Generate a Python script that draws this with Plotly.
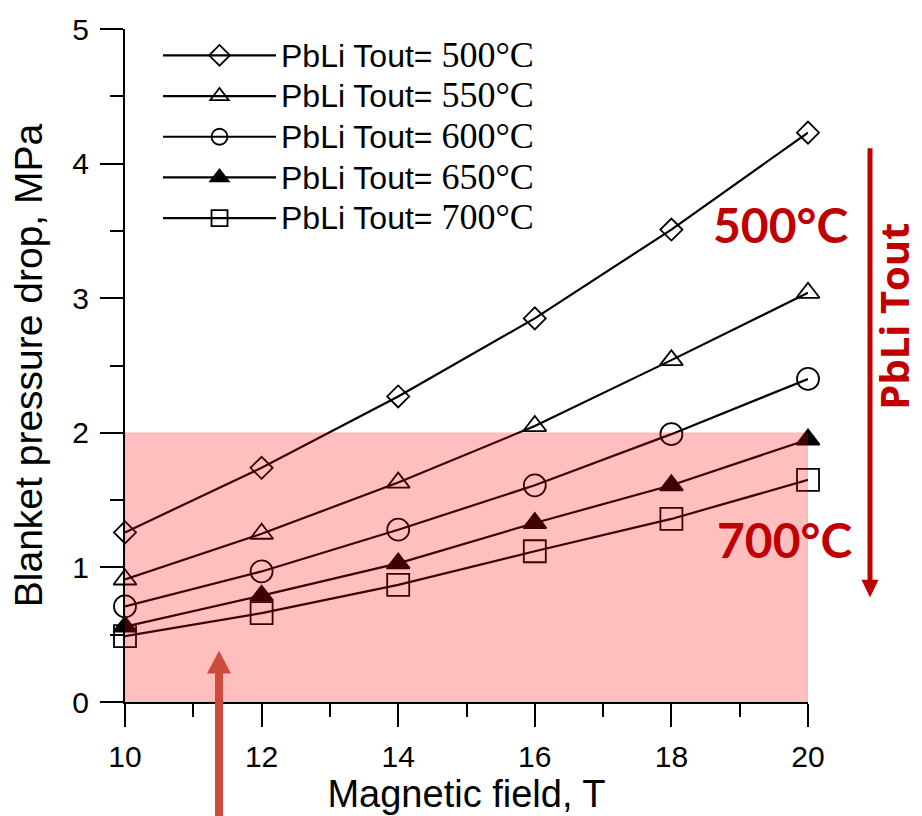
import plotly.graph_objects as go

# Magnetic field values (T) and blanket pressure drop (MPa) per PbLi outlet temperature
field_T = [10, 12, 14, 16, 18, 20]
dp_500 = [1.26, 1.74, 2.27, 2.85, 3.51, 4.23]
dp_550 = [0.91, 1.25, 1.63, 2.05, 2.54, 3.04]
dp_600 = [0.71, 0.97, 1.28, 1.61, 1.99, 2.40]
dp_650 = [0.56, 0.79, 1.03, 1.33, 1.61, 1.95]
dp_700 = [0.49, 0.66, 0.87, 1.12, 1.36, 1.65]

temps = ["500°C", "550°C", "600°C", "650°C", "700°C"]
series = [dp_500, dp_550, dp_600, dp_650, dp_700]
symbols = ["diamond-open", "triangle-up-open", "circle-open", "triangle-up", "square-open"]
sizes = [17, 20, 22, 20, 22]

# Allowed pressure-drop window (MPa) over the field range
limit_x = [10, 20]
limit_y = [0, 2]

W, H = 922, 816
L, R, T, B = 125, 114, 21, 112
PW, PH = W - L - R, H - T - B

SANS = "Liberation Sans, Arial, sans-serif"
SERIF = "Liberation Serif, Times New Roman, serif"
BOLD = "Lato, Open Sans, sans-serif"
RED = "#C00000"


def px(x):
    return (x - L) / PW


def py(y):
    return (H - B - y) / PH


fig = go.Figure()

for t, vals, sym, sz in zip(temps, series, symbols, sizes):
    fig.add_trace(go.Scatter(
        x=field_T, y=vals, mode="lines+markers", cliponaxis=False,
        name=(f'<span style="font-size:32px">PbLi Tout= </span>'
              f'<span style="font-family:{SERIF}; font-size:36px">{t}</span>'),
        line=dict(color="black", width=2.2),
        marker=dict(symbol=sym, size=sz, color="black",
                    line=dict(color="black", width=1.8)),
    ))

shapes = [
    # translucent red window drawn over the curves
    dict(type="rect", xref="x", yref="y",
         x0=limit_x[0], x1=limit_x[1], y0=limit_y[0], y1=limit_y[1],
         fillcolor="rgba(255,0,0,0.25)", line=dict(color="rgba(255,0,0,0.12)", width=1),
         layer="above"),
    # vertical "PbLi Tout" arrow on the right
    dict(type="line", xref="paper", yref="paper",
         x0=px(870), x1=px(870), y0=py(142), y1=py(582),
         line=dict(color=RED, width=5), layer="above"),
    dict(type="path", xref="paper", yref="paper",
         path=f"M {px(861.5)} {py(580)} L {px(878.5)} {py(580)} L {px(870)} {py(598)} Z",
         fillcolor=RED, line=dict(color=RED, width=0), layer="above"),
    # upward arrow below the field axis
    dict(type="line", xref="paper", yref="paper",
         x0=px(219), x1=px(219), y0=py(820), y1=py(672),
         line=dict(color="#CD4B3C", width=8), layer="above"),
    dict(type="path", xref="paper", yref="paper",
         path=f"M {px(207)} {py(675)} L {px(231)} {py(675)} L {px(219)} {py(652)} Z",
         fillcolor="#CD4B3C", line=dict(color="#CD4B3C", width=0), layer="above"),
]

annotations = [
    dict(xref="paper", yref="paper", x=px(780), y=py(219), text="<b>500°C</b>",
         showarrow=False, font=dict(family=BOLD, size=48, color=RED),
         xanchor="center", yanchor="middle"),
    dict(xref="paper", yref="paper", x=px(784), y=py(539), text="<b>700°C</b>",
         showarrow=False, font=dict(family=BOLD, size=48, color=RED),
         xanchor="center", yanchor="middle"),
    dict(xref="paper", yref="paper", x=px(894), y=py(313), text="<b>PbLi Tout</b>",
         showarrow=False, textangle=-90,
         font=dict(family="Open Sans, Lato, sans-serif", size=40, color=RED),
         xanchor="center", yanchor="middle"),
]

fig.update_layout(
    width=W, height=H,
    margin=dict(l=L, r=R, t=T, b=B),
    paper_bgcolor="white", plot_bgcolor="white",
    font=dict(family=SANS, color="black"),
    showlegend=True,
    legend=dict(x=px(158), y=py(22), xanchor="left", yanchor="top",
                bgcolor="rgba(0,0,0,0)", borderwidth=0,
                font=dict(family=SANS, size=29, color="black"),
                itemwidth=113, tracegroupgap=0),
    shapes=shapes,
    annotations=annotations,
)

fig.update_xaxes(
    range=[10, 20], dtick=2, tick0=10,
    showline=True, linecolor="black", linewidth=2, mirror=False,
    showgrid=False, zeroline=False,
    ticks="outside", ticklen=23, tickwidth=2, tickcolor="black",
    tickfont=dict(family=SANS, size=30), ticklabelstandoff=4,
    minor=dict(dtick=1, ticks="outside", ticklen=13, tickwidth=2, tickcolor="black", showgrid=False),
    title=dict(text="Magnetic field, T", font=dict(family=SANS, size=38), standoff=4),
)
fig.update_yaxes(
    range=[0, 5], dtick=1, tick0=0,
    showline=True, linecolor="black", linewidth=2, mirror=False,
    showgrid=False, zeroline=False,
    ticks="outside", ticklen=23, tickwidth=2, tickcolor="black",
    tickfont=dict(family=SANS, size=30), ticklabelstandoff=5,
    minor=dict(dtick=0.5, ticks="outside", ticklen=13, tickwidth=2, tickcolor="black", showgrid=False),
    title=dict(text="Blanket pressure drop, MPa", font=dict(family=SANS, size=39), standoff=18),
)

fig.write_html("out.html")
